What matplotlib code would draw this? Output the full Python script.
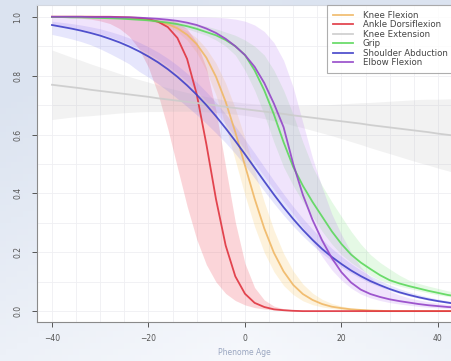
import numpy as np
import matplotlib
matplotlib.use("Agg")
import matplotlib.pyplot as plt
from matplotlib.colors import LinearSegmentedColormap

# shared age grid, -40 .. 44 in steps of 2
ages = list(range(-40, 46, 2))

# each list: -40..-22 | -20..-2 | 0..18 | 20..44
knee_flex = [1.0, 1.0, 1.0, 1.0, 1.0, 0.999, 0.998, 0.997, 0.996, 0.994,
             0.990, 0.984, 0.975, 0.961, 0.939, 0.907, 0.861, 0.796, 0.711, 0.608,
             0.495, 0.382, 0.281, 0.198, 0.135, 0.089, 0.058, 0.038, 0.024, 0.015,
             0.010, 0.006, 0.004, 0.002, 0.001, 0, 0, 0, 0, 0, 0, 0, 0]
knee_flex_lo = [1.0, 1.0, 1.0, 1.0, 0.999, 0.999, 0.998, 0.997, 0.995, 0.992,
                0.988, 0.980, 0.968, 0.949, 0.921, 0.878, 0.816, 0.733, 0.629, 0.512,
                0.394, 0.287, 0.199, 0.134, 0.087, 0.056, 0.035, 0.022, 0.014, 0.009,
                0.005, 0.003, 0.002, 0.001, 0, 0, 0, 0, 0, 0, 0, 0, 0]
knee_flex_hi = [1.0, 1.0, 1.0, 1.0, 1.0, 0.999, 0.999, 0.998, 0.996, 0.994,
                0.991, 0.987, 0.980, 0.969, 0.952, 0.928, 0.892, 0.842, 0.774, 0.688,
                0.587, 0.478, 0.371, 0.275, 0.196, 0.136, 0.092, 0.061, 0.040, 0.026,
                0.017, 0.011, 0.007, 0.005, 0.003, 0.002, 0.001, 0, 0, 0, 0, 0, 0]

ankle = [1.0, 1.0, 1.0, 1.0, 1.0, 1.0, 1.0, 0.999, 0.998, 0.996,
         0.992, 0.983, 0.965, 0.928, 0.857, 0.737, 0.567, 0.380, 0.223, 0.118,
         0.059, 0.028, 0.014, 0.006, 0.003, 0.001, 0, 0, 0, 0,
         0, 0, 0, 0, 0, 0, 0, 0, 0, 0, 0, 0, 0]
ankle_lo = [0.999, 0.998, 0.997, 0.995, 0.992, 0.986, 0.977, 0.960, 0.934, 0.892,
            0.828, 0.737, 0.620, 0.488, 0.357, 0.244, 0.158, 0.099, 0.060, 0.036,
            0.021, 0.012, 0.007, 0.004, 0.002, 0.001, 0, 0, 0, 0,
            0, 0, 0, 0, 0, 0, 0, 0, 0, 0, 0, 0, 0]
ankle_hi = [1.0, 1.0, 1.0, 1.0, 1.0, 1.0, 1.0, 1.0, 1.0, 0.999,
            0.998, 0.996, 0.992, 0.981, 0.959, 0.914, 0.826, 0.681, 0.490, 0.302,
            0.162, 0.080, 0.038, 0.017, 0.008, 0.004, 0.002, 0.001, 0, 0,
            0, 0, 0, 0, 0, 0, 0, 0, 0, 0, 0, 0, 0]

knee_ext = [0.769, 0.765, 0.761, 0.757, 0.752, 0.748, 0.744, 0.740, 0.736, 0.732,
            0.728, 0.723, 0.719, 0.715, 0.711, 0.707, 0.703, 0.699, 0.694, 0.690,
            0.686, 0.682, 0.678, 0.674, 0.670, 0.665, 0.661, 0.657, 0.653, 0.649,
            0.645, 0.641, 0.637, 0.632, 0.628, 0.624, 0.620, 0.616, 0.612, 0.608, 0.603, 0.599, 0.595]
knee_ext_lo = [0.651, 0.655, 0.659, 0.662, 0.664, 0.667, 0.670, 0.673, 0.675, 0.677,
               0.678, 0.678, 0.679, 0.679, 0.679, 0.678, 0.677, 0.675, 0.672, 0.669,
               0.665, 0.660, 0.654, 0.647, 0.640, 0.631, 0.623, 0.614, 0.605, 0.596,
               0.586, 0.576, 0.566, 0.555, 0.545, 0.535, 0.525, 0.515, 0.505, 0.496, 0.486, 0.477, 0.468]
knee_ext_hi = [0.887, 0.875, 0.863, 0.852, 0.840, 0.829, 0.818, 0.807, 0.797, 0.787,
               0.778, 0.768, 0.759, 0.751, 0.743, 0.736, 0.729, 0.723, 0.716, 0.711,
               0.707, 0.704, 0.702, 0.701, 0.700, 0.699, 0.699, 0.700, 0.701, 0.702,
               0.704, 0.706, 0.708, 0.709, 0.711, 0.713, 0.715, 0.717, 0.719, 0.720, 0.720, 0.721, 0.722]

grip = [0.999, 0.999, 0.998, 0.998, 0.997, 0.996, 0.995, 0.994, 0.992, 0.990,
        0.988, 0.984, 0.980, 0.975, 0.968, 0.959, 0.948, 0.937, 0.921, 0.900,
        0.870, 0.818, 0.750, 0.668, 0.574, 0.490, 0.426, 0.371, 0.321, 0.271,
        0.228, 0.192, 0.165, 0.143, 0.122, 0.105, 0.094, 0.085, 0.077, 0.069, 0.062, 0.055, 0.050]
grip_lo = [0.999, 0.998, 0.998, 0.997, 0.996, 0.995, 0.994, 0.992, 0.990, 0.988,
           0.984, 0.980, 0.975, 0.968, 0.959, 0.948, 0.937, 0.921, 0.900, 0.870,
           0.818, 0.750, 0.668, 0.574, 0.490, 0.426, 0.371, 0.321, 0.271, 0.228,
           0.192, 0.165, 0.143, 0.122, 0.105, 0.094, 0.085, 0.077, 0.069, 0.062, 0.055, 0.050, 0.046]
grip_hi = [1.0, 1.0, 0.999, 0.999, 0.998, 0.998, 0.997, 0.996, 0.995, 0.994,
           0.992, 0.990, 0.988, 0.984, 0.980, 0.975, 0.968, 0.959, 0.948, 0.937,
           0.921, 0.900, 0.870, 0.818, 0.750, 0.668, 0.574, 0.490, 0.426, 0.371,
           0.321, 0.271, 0.228, 0.192, 0.165, 0.143, 0.122, 0.105, 0.094, 0.085, 0.077, 0.069, 0.062]

shoulder = [0.972, 0.966, 0.960, 0.953, 0.945, 0.936, 0.925, 0.913, 0.899, 0.883,
            0.865, 0.845, 0.822, 0.796, 0.767, 0.735, 0.700, 0.662, 0.621, 0.578,
            0.533, 0.487, 0.441, 0.396, 0.353, 0.313, 0.276, 0.242, 0.211, 0.184,
            0.160, 0.138, 0.119, 0.102, 0.088, 0.075, 0.064, 0.055, 0.047, 0.040, 0.034, 0.029, 0.024]
shoulder_lo = [0.940, 0.933, 0.925, 0.916, 0.905, 0.891, 0.875, 0.858, 0.840, 0.815,
               0.795, 0.772, 0.748, 0.722, 0.695, 0.667, 0.637, 0.605, 0.572, 0.535,
               0.495, 0.452, 0.408, 0.366, 0.326, 0.289, 0.255, 0.224, 0.196, 0.171,
               0.149, 0.129, 0.111, 0.095, 0.082, 0.070, 0.060, 0.051, 0.044, 0.037, 0.032, 0.027, 0.023]
shoulder_hi = [0.985, 0.981, 0.977, 0.972, 0.966, 0.959, 0.950, 0.940, 0.928, 0.914,
               0.898, 0.880, 0.859, 0.835, 0.808, 0.778, 0.745, 0.709, 0.670, 0.628,
               0.583, 0.537, 0.490, 0.443, 0.398, 0.355, 0.315, 0.278, 0.244, 0.213,
               0.186, 0.161, 0.139, 0.120, 0.104, 0.089, 0.076, 0.065, 0.056, 0.048, 0.041, 0.035, 0.030]

elbow = [1.0, 1.0, 1.0, 1.0, 0.999, 0.999, 0.999, 0.998, 0.998, 0.997,
         0.995, 0.993, 0.990, 0.986, 0.980, 0.972, 0.960, 0.945, 0.925, 0.900,
         0.870, 0.830, 0.775, 0.705, 0.625, 0.500, 0.395, 0.310, 0.240, 0.180,
         0.132, 0.097, 0.073, 0.058, 0.048, 0.040, 0.034, 0.029, 0.024, 0.020, 0.017, 0.014, 0.012]
elbow_lo = [0.975, 0.970, 0.965, 0.958, 0.950, 0.942, 0.932, 0.920, 0.907, 0.892,
            0.875, 0.855, 0.833, 0.808, 0.780, 0.748, 0.713, 0.675, 0.635, 0.592,
            0.548, 0.503, 0.458, 0.414, 0.372, 0.330, 0.285, 0.235, 0.185, 0.140,
            0.105, 0.078, 0.058, 0.045, 0.036, 0.029, 0.024, 0.020, 0.016, 0.013, 0.011, 0.009, 0.008]
elbow_hi = [1.0, 1.0, 1.0, 1.0, 1.0, 1.0, 1.0, 1.0, 1.0, 1.0,
            1.0, 1.0, 1.0, 1.0, 1.0, 1.0, 0.999, 0.998, 0.996, 0.992,
            0.985, 0.972, 0.950, 0.912, 0.852, 0.760, 0.640, 0.520, 0.420, 0.330,
            0.260, 0.200, 0.150, 0.115, 0.088, 0.068, 0.055, 0.045, 0.038, 0.032, 0.027, 0.023, 0.020]

labels = ["Knee Flexion", "Ankle Dorsiflexion", "Knee Extension", "Grip",
          "Shoulder Abduction", "Elbow Flexion"]
curves = [knee_flex, ankle, knee_ext, grip, shoulder, elbow]
lows = [knee_flex_lo, ankle_lo, knee_ext_lo, grip_lo, shoulder_lo, elbow_lo]
highs = [knee_flex_hi, ankle_hi, knee_ext_hi, grip_hi, shoulder_hi, elbow_hi]
line_cols = ["#f0b866", "#e0343f", "#cccccc", "#5cd85c", "#4040c8", "#9446c8"]
band_cols = ["#f6c860", "#ef4452", "#b8b8b8", "#70e070", "#6464f0", "#b878f0"]
band_alpha = [0.22, 0.22, 0.18, 0.18, 0.16, 0.2]

fig = plt.figure(figsize=(4.51, 3.61), dpi=100)

# pale blue backdrop, lighter toward the bottom middle
bg = fig.add_axes([0, 0, 1, 1], zorder=-5)
gy, gx = np.mgrid[0:1:60j, 0:1:80j]
shade = np.clip(0.9 * gy + 0.6 * np.abs(gx - 0.55), 0, 1)
bg.imshow(shade, cmap=LinearSegmentedColormap.from_list("bgc", ["#f6f8fc", "#dbe3f0"]),
          aspect="auto", extent=[0, 1, 0, 1], origin="lower")
bg.axis("off")

ax = fig.add_axes([37 / 451, 1 - 322 / 361, 1 - 37 / 451, 317 / 361])
ax.set_facecolor("white")

for lo, hi, bc, a in zip(lows, highs, band_cols, band_alpha):
    ax.fill_between(ages, lo, hi, color=bc, alpha=a, lw=0)
for y, lc, lab in zip(curves, line_cols, labels):
    ax.plot(ages, y, color=lc, lw=1.3, alpha=0.9, label=lab)

ax.set_xlim(-43.1, 42.7)
ax.set_ylim(-0.037, 1.04)
ax.set_xticks([-40, -20, 0, 20, 40])
ax.set_yticks([0.0, 0.2, 0.4, 0.6, 0.8, 1.0])
ax.set_yticklabels(["0.0", "0.2", "0.4", "0.6", "0.8", "1.0"], rotation=90, va="center")
ax.set_xticks(np.arange(-40, 45, 5), minor=True)
ax.set_yticks(np.arange(0, 1.05, 0.1), minor=True)
ax.grid(True, which="both", color="#efeff2", lw=0.6)
ax.set_axisbelow(True)
ax.tick_params(which="major", direction="out", length=3.5, width=0.7, colors="#555555",
               labelsize=5.5, pad=5)
ax.tick_params(axis="y", pad=7)
ax.tick_params(which="minor", length=0)

ax.spines["right"].set_visible(False)
ax.spines["top"].set_color("#d4d8e0")
ax.spines["left"].set_color("#8a8a8a")
ax.spines["bottom"].set_color("#8a8a8a")
for s in ax.spines.values():
    s.set_linewidth(0.8)

ax.set_xlabel("Phenome Age", fontsize=5.5, color="#9aa6c0", labelpad=4)

leg = ax.legend(loc="upper left", bbox_to_anchor=(327 / 451, 1 - 5 / 361),
                bbox_transform=fig.transFigure, borderaxespad=0, fontsize=6.2,
                frameon=True, fancybox=False, edgecolor="#9a9a9a", handlelength=2.3,
                labelspacing=0.05, borderpad=0.7, handletextpad=1.15)
leg.get_frame().set_linewidth(0.8)
for t in leg.get_texts():
    t.set_color("#444444")

fig.savefig("out.png", dpi=100)
